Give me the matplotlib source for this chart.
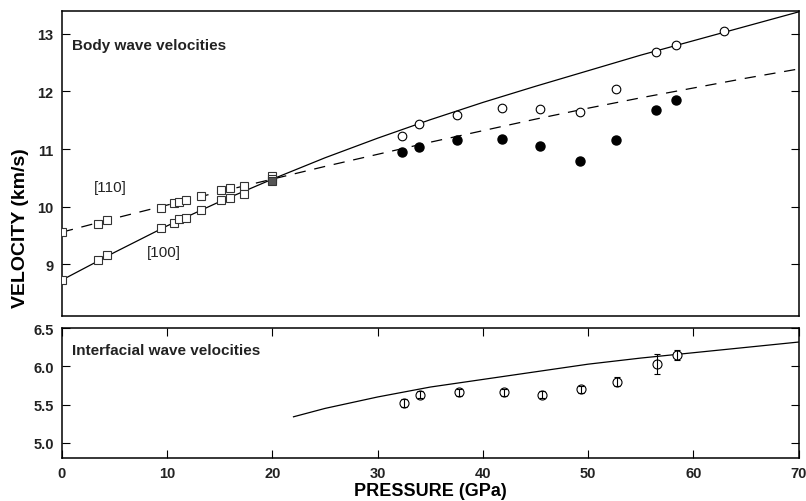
import matplotlib
matplotlib.use('Agg')
import matplotlib.pyplot as plt
import numpy as np

plt.rcParams['font.family'] = ['Liberation Sans', 'DejaVu Sans']

# --- Body wave data: [110] and [100] squares (low pressure) ---
p_sq = [0.0, 3.45, 4.25, 9.38, 10.65, 11.1, 11.8, 13.2, 15.1, 16.0, 17.3, 20.0]
v_110 = [9.57, 9.71, 9.77, 9.98, 10.07, 10.08, 10.12, 10.18, 10.29, 10.33, 10.36, 10.54]
v_100 = [8.73, 9.08, 9.16, 9.63, 9.72, 9.79, 9.80, 9.95, 10.12, 10.15, 10.22, 10.48]

# --- Body wave data: circles (high pressure) ---
p_circ = [32.35, 33.9, 37.55, 41.85, 45.45, 49.2, 52.6, 56.4, 58.3]
v_open = [11.23, 11.44, 11.59, 11.72, 11.70, 11.65, 12.04, 12.68, 12.81]
v_filled = [10.95, 11.04, 11.16, 11.17, 11.06, 10.79, 11.16, 11.68, 11.86]
p_open_extra = [62.9]
v_open_extra = [13.05]

# --- Model curves ---
p_curve = [0, 5, 10, 15, 20, 25, 30, 35, 40, 45, 50, 55, 60, 65, 70]
v_curve_100 = [8.73, 9.21, 9.67, 10.09, 10.48, 10.85, 11.19, 11.51, 11.81, 12.09, 12.36, 12.63, 12.88, 13.13, 13.38]
v_curve_110 = [9.56, 9.80, 10.03, 10.26, 10.48, 10.70, 10.91, 11.12, 11.32, 11.52, 11.71, 11.89, 12.06, 12.23, 12.39]

# --- Interfacial wave data ---
p_int = [32.5, 34.0, 37.7, 42.0, 45.6, 49.3, 52.7, 56.5, 58.4]
v_int = [5.52, 5.63, 5.66, 5.66, 5.63, 5.70, 5.80, 6.03, 6.15]
e_int = [0.05, 0.05, 0.05, 0.05, 0.05, 0.05, 0.06, 0.13, 0.06]
p_int_curve = [22, 25, 30, 35, 40, 45, 50, 55, 60, 65, 70]
v_int_curve = [5.34, 5.45, 5.60, 5.73, 5.83, 5.93, 6.03, 6.11, 6.18, 6.25, 6.32]

fig = plt.figure(figsize=(8.06, 5.02), dpi=100)
ax1 = fig.add_axes([0.0769, 0.369, 0.914, 0.6065])
ax2 = fig.add_axes([0.0769, 0.0857, 0.914, 0.2583])

lw = 0.9
# top panel
ax1.plot(p_curve, v_curve_100, '-', color='black', lw=lw, zorder=2)
ax1.plot(p_curve, v_curve_110, color='black', lw=lw, linestyle=(0, (9, 7)), zorder=2)
ax1.plot(p_sq, v_110, 's', mfc='white', mec='#333333', mew=0.8, ms=6, zorder=3)
ax1.plot(p_sq, v_100, 's', mfc='white', mec='#333333', mew=0.8, ms=6, zorder=3)
ax1.plot([20.0], [10.45], 's', mfc='#555555', mec='#333333', mew=0.8, ms=6, zorder=4)
ax1.plot(p_circ + p_open_extra, v_open + v_open_extra, 'o', mfc='white', mec='black',
         mew=0.8, ms=6.2, zorder=3)
ax1.plot(p_circ, v_filled, 'o', mfc='black', mec='black', ms=6.5, zorder=3)

ax1.text(0.0136, 0.888, 'Body wave velocities', transform=ax1.transAxes,
         fontsize=11, fontweight='bold', ha='left', va='center', color='#222222')
ax1.text(3.04, 10.34, '[110]', fontsize=11, ha='left', va='center', color='#222222')
ax1.text(8.1, 9.21, '[100]', fontsize=11, ha='left', va='center', color='#222222')

ax1.set_xlim(0, 70)
ax1.set_ylim(8.11, 13.39)
ax1.set_yticks([9, 10, 11, 12, 13])
ax1.set_xticks([])
ax1.tick_params(axis='y', direction='in', length=6, width=0.8, right=True,
                labelsize=10.5, pad=6)

# bottom panel
ax2.plot(p_int_curve, v_int_curve, '-', color='black', lw=lw, zorder=2)
ax2.plot(p_int, v_int, 'o', mfc='white', mec='black', mew=0.8, ms=6.5, zorder=3)
ax2.errorbar(p_int, v_int, yerr=e_int, fmt='none', ecolor='black', elinewidth=0.8,
             capsize=2, capthick=0.8, zorder=4)
ax2.text(0.0136, 0.829, 'Interfacial wave velocities', transform=ax2.transAxes,
         fontsize=11, fontweight='bold', ha='left', va='center', color='#222222')
ax2.set_xlim(0, 70)
ax2.set_ylim(4.8, 6.5)
ax2.set_xticks(np.arange(0, 71, 10))
ax2.set_yticks([5.0, 5.5, 6.0, 6.5])
ax2.set_yticklabels(['5.0', '5.5', '6.0', '6.5'])
ax2.tick_params(direction='in', length=6, width=0.8, right=True, top=True,
                labelsize=10.5, pad=6)
ax2.set_xlabel('PRESSURE (GPa)', fontsize=13, fontweight='bold', labelpad=1)

for ax in (ax1, ax2):
    for s in ax.spines.values():
        s.set_linewidth(1.1)
    for lab in ax.get_xticklabels() + ax.get_yticklabels():
        lab.set_fontweight('bold')
        lab.set_color('#222222')

fig.text(0.025, 0.546, 'VELOCITY (km/s)', rotation=90, fontsize=14, fontweight='bold',
         ha='center', va='center')

fig.savefig('out.png', dpi=100)
